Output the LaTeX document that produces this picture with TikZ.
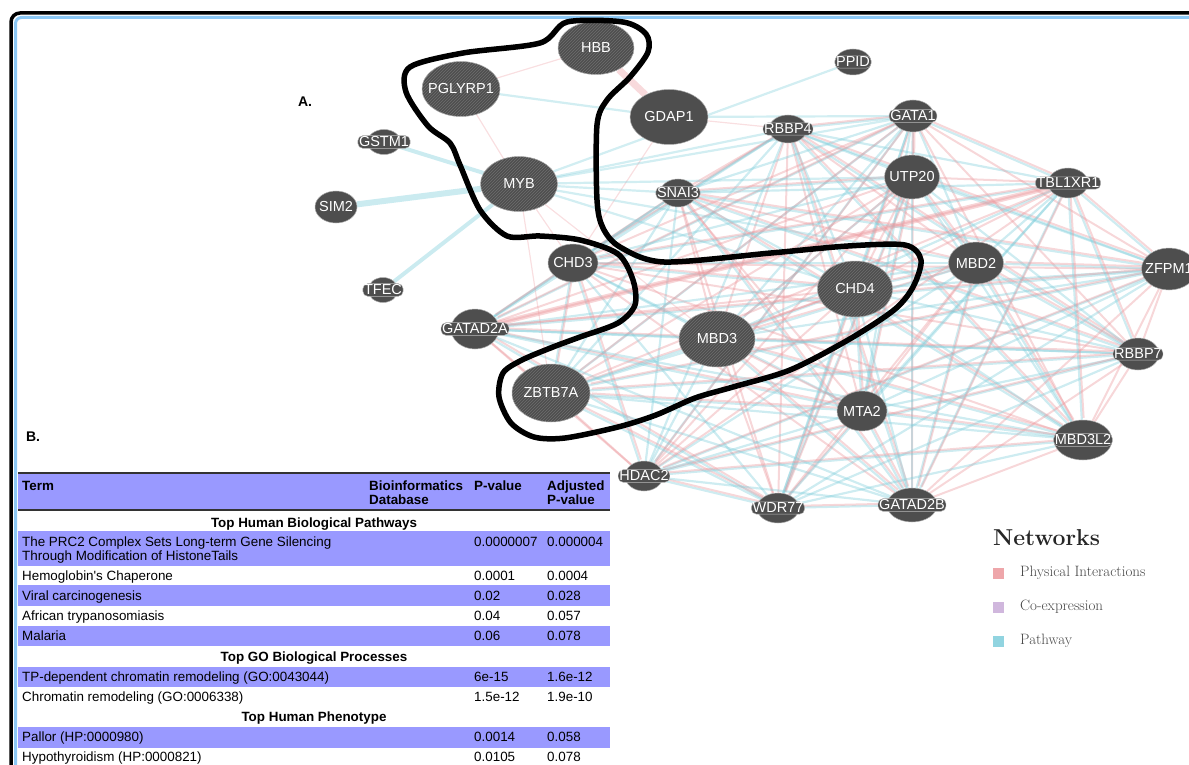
\documentclass[tikz,border=0pt]{standalone}
\usepackage{fontspec}
\newfontfamily\arialf{Liberation Sans}
\usetikzlibrary{shapes.geometric,patterns}
\definecolor{nodegray}{RGB}{78,78,78}
\definecolor{hatchgray}{RGB}{110,110,110}
\definecolor{physcol}{RGB}{235,150,155}
\definecolor{pwaycol}{RGB}{125,205,218}
\definecolor{coexcol}{RGB}{200,170,215}
\definecolor{rowblue}{RGB}{153,153,255}
\definecolor{frameblue}{RGB}{140,200,245}
\definecolor{legtext}{RGB}{70,70,70}
\pgfdeclarelayer{bg}
\pgfsetlayers{bg,main}
\newcommand{\tabf}{\arialf\fontsize{13.4}{15}\selectfont}
\tikzset{
  gnode/.style={ellipse, fill=nodegray, draw=gray!65, line width=0.5pt, inner sep=0pt},
  sz/.style 2 args={minimum width=#1, minimum height=#2},
  hatch/.style={preaction={fill=nodegray}, pattern=north east lines, pattern color=hatchgray},
  lbl/.style={text=white, inner sep=0pt, font=\arialf\fontsize{14.5}{16}\selectfont},
  pill/.style={lbl, fill=nodegray, draw=gray!55, line width=0.4pt, rounded corners=5pt, inner sep=1.2pt},
  plain/.style={label={[lbl]center:#1}},
  halo/.style={label={[pill]center:#1}},
  phys/.style={draw=physcol, draw opacity=0.38, line width=2pt},
  pway/.style={draw=pwaycol, draw opacity=0.38, line width=2.2pt},
  hull/.style={line width=5.5pt, line join=round},
  cell/.style={anchor=base west, inner sep=0pt, font=\tabf},
  head/.style={anchor=base, inner sep=0pt, font=\tabf\bfseries},
}
\begin{document}
\begin{tikzpicture}[x=1pt,y=1pt,yscale=-1]
\useasboundingbox (0,0) rectangle (1189,765);

%frame
\draw[line width=3.5pt, rounded corners=9pt] (11,800) -- (11,13) -- (1230,13);
\draw[frameblue, line width=3pt, rounded corners=6pt] (15.5,800) -- (15.5,17.5) -- (1230,17.5);

%Shape: Ellipse nodes
\node[gnode,sz={76}{53},hatch,plain=HBB] (hbb) at (596,48) {};
\node[gnode,sz={78}{55},hatch,plain=PGLYRP1] (pglyrp1) at (461,89) {};
\node[gnode,sz={78}{55},plain=GDAP1] (gdap1) at (669,117) {};
\node[gnode,sz={77}{55},hatch,plain=MYB] (myb) at (519,184) {};
\node[gnode,sz={75}{56},hatch,plain=CHD4] (chd4) at (855,289) {};
\node[gnode,sz={76}{56},hatch,plain=MBD3] (mbd3) at (717,339) {};
\node[gnode,sz={78}{58},hatch,plain=ZBTB7A] (zbtb7a) at (551,393) {};
\node[gnode,sz={36}{26},halo=PPID] (ppid) at (853,62) {};
\node[gnode,sz={38}{28},halo=RBBP4] (rbbp4) at (788,129) {};
\node[gnode,sz={42}{32},halo=GATA1] (gata1) at (913,116) {};
\node[gnode,sz={33}{25},halo=GSTM1] (gstm1) at (384,142) {};
\node[gnode,sz={36}{28},halo=SNAI3] (snai3) at (678,193) {};
\node[gnode,sz={55}{44},plain=UTP20] (utp20) at (912,177) {};
\node[gnode,sz={40}{30},halo=TBL1XR1] (tbl1xr1) at (1068,183) {};
\node[gnode,sz={42}{32},plain=SIM2] (sim2) at (336,207) {};
\node[gnode,sz={50}{38},plain=CHD3] (chd3) at (573,263) {};
\node[gnode,sz={55}{42},plain=MBD2] (mbd2) at (976,263) {};
\node[gnode,sz={55}{42},plain=ZFPM1] (zfpm1) at (1169,269) {};
\node[gnode,sz={30}{25},halo=TFEC] (tfec) at (383,290) {};
\node[gnode,sz={48}{40},halo=GATAD2A] (gatad2a) at (475,329) {};
\node[gnode,sz={42}{32},halo=RBBP7] (rbbp7) at (1138,354) {};
\node[gnode,sz={50}{40},plain=MTA2] (mta2) at (862,411) {};
\node[gnode,sz={58}{40},halo=MBD3L2] (mbd3l2) at (1083,440) {};
\node[gnode,sz={38}{30},halo=HDAC2] (hdac2) at (644,476) {};
\node[gnode,sz={42}{30},halo=WDR77] (wdr77) at (778,508) {};
\node[gnode,sz={50}{34},halo=GATAD2B] (gatad2b) at (912,505) {};

%Straight Lines
\begin{pgfonlayer}{bg}
\foreach \a [count=\i] in {rbbp4,gata1,utp20,snai3,chd3,chd4,mbd2,zfpm1,gatad2a,mbd3,rbbp7,zbtb7a,mta2,mbd3l2,hdac2,wdr77,gatad2b,tbl1xr1}{
  \foreach \b [count=\j] in {rbbp4,gata1,utp20,snai3,chd3,chd4,mbd2,zfpm1,gatad2a,mbd3,rbbp7,zbtb7a,mta2,mbd3l2,hdac2,wdr77,gatad2b,tbl1xr1}{
    \ifnum\j>\i
      \pgfmathtruncatemacro{\k}{mod(\i+2*\j,3)}
      \ifnum\k=0 \draw[phys] (\a) -- (\b); \fi
      \ifnum\k=1 \draw[pway] (\a) -- (\b); \fi
      \ifnum\k=2
        \draw[pway] (\a) -- (\b);
        \draw[phys, transform canvas={shift={(1.8pt,1.8pt)}}] (\a) -- (\b);
      \fi
    \fi
  }
}
\foreach \a/\b in {pglyrp1/myb,hbb/pglyrp1,myb/chd3,myb/mbd3,gdap1/chd3,myb/zbtb7a,gdap1/rbbp4}
  \draw[phys, draw opacity=0.3, line width=1.2pt] (\a) -- (\b);
\foreach \a/\b in {ppid/myb,myb/gata1,myb/rbbp4,myb/utp20,myb/chd4,myb/mbd2,pglyrp1/gdap1,gdap1/gata1,myb/snai3}
  \draw[pway, draw opacity=0.35] (\a) -- (\b);
\draw[phys, draw opacity=0.35, line width=7pt] (hbb) -- (gdap1);
\draw[phys, draw opacity=0.4, line width=5pt] (tbl1xr1) -- (gatad2a);
\draw[pway, draw opacity=0.4, line width=6pt] (sim2) -- (myb);
\draw[pway, draw opacity=0.4, line width=4pt] (gstm1) -- (myb);
\draw[pway, draw opacity=0.4, line width=4pt] (tfec) -- (myb);
\end{pgfonlayer}

%Curve Lines
\draw[hull] plot[smooth cycle, tension=0.5] coordinates {
  (410,67) (463,53) (540,43) (567,22) (623,22) (646,34) (648,52) (630,77) (607,100)
  (597,125) (597,200) (603,228) (620,247) (664,262) (771,253) (848,246) (905,245)
  (921,260) (913,287) (894,310) (848,340) (790,370) (733,387) (695,398) (656,415)
  (618,427) (565,438) (534,437) (511,423) (499,397) (503,373) (522,360) (553,347)
  (580,337) (618,323) (635,305) (633,280) (618,254) (580,240) (540,236) (507,236)
  (480,210) (460,165) (450,143) (428,126) (406,92)};

% Text Node
\node[font=\arialf\bfseries\fontsize{14}{16}\selectfont] (lblA) at (305,102) {A.};
\node[font=\arialf\bfseries\fontsize{14}{16}\selectfont] (lblB) at (33,437) {B.};

%table
\fill[rowblue] (18,473) rectangle (610,510);
\foreach \y/\h in {531/566,585/606,626/646,667/687,727/748}
  \fill[rowblue] (18,\y) rectangle (610,\h);
\draw[black!80, line width=2.5pt] (18,473) -- (610,473);
\draw[black!80, line width=2.5pt] (18,510) -- (610,510);
\node[cell,font=\tabf\bfseries] (hTerm) at (22,490) {Term};
\node[cell,font=\tabf\bfseries] (hDb1) at (369,490) {Bioinformatics};
\node[cell,font=\tabf\bfseries] (hDb2) at (369,504) {Database};
\node[cell,font=\tabf\bfseries] (hPv) at (474,490) {P-value};
\node[cell,font=\tabf\bfseries] (hAdj1) at (547,490) {Adjusted};
\node[cell,font=\tabf\bfseries] (hAdj2) at (547,504) {P-value};
\node[head] (sec1) at (314,527) {Top Human Biological Pathways};
\node[cell] (r1a) at (22,546) {The PRC2 Complex Sets Long-term Gene Silencing};
\node[cell] (r1b) at (22,560.5) {Through Modification of HistoneTails};
\node[cell] (r1p) at (474,546) {0.0000007};
\node[cell] (r1q) at (547,546) {0.000004};
\node[cell] (r2) at (22,580.5) {Hemoglobin's Chaperone};
\node[cell] (r2p) at (474,580.5) {0.0001};
\node[cell] (r2q) at (547,580.5) {0.0004};
\node[cell] (r3) at (22,600.5) {Viral carcinogenesis};
\node[cell] (r3p) at (474,600.5) {0.02};
\node[cell] (r3q) at (547,600.5) {0.028};
\node[cell] (r4) at (22,620.5) {African trypanosomiasis};
\node[cell] (r4p) at (474,620.5) {0.04};
\node[cell] (r4q) at (547,620.5) {0.057};
\node[cell] (r5) at (22,640.5) {Malaria};
\node[cell] (r5p) at (474,640.5) {0.06};
\node[cell] (r5q) at (547,640.5) {0.078};
\node[head] (sec2) at (314,661) {Top GO Biological Processes};
\node[cell] (r6) at (22,681.5) {TP-dependent chromatin remodeling (GO:0043044)};
\node[cell] (r6p) at (474,681.5) {6e-15};
\node[cell] (r6q) at (547,681.5) {1.6e-12};
\node[cell] (r7) at (22,701.5) {Chromatin remodeling (GO:0006338)};
\node[cell] (r7p) at (474,701.5) {1.5e-12};
\node[cell] (r7q) at (547,701.5) {1.9e-10};
\node[head] (sec3) at (314,721.5) {Top Human Phenotype};
\node[cell] (r8) at (22,741.5) {Pallor (HP:0000980)};
\node[cell] (r8p) at (474,741.5) {0.0014};
\node[cell] (r8q) at (547,741.5) {0.058};
\node[cell] (r9) at (22,761.5) {Hypothyroidism (HP:0000821)};
\node[cell] (r9p) at (474,761.5) {0.0105};
\node[cell] (r9q) at (547,761.5) {0.078};

%legend
\node[anchor=west, inner sep=0pt, font=\bfseries\fontsize{23}{26}\selectfont, text=black!85] (legT) at (993,538) {Networks};
\foreach \c/\t/\y [count=\n] in {physcol/Physical Interactions/573, coexcol/Co-expression/607, pwaycol/Pathway/641}{
  \fill[\c!85] (993,\y-5.5) rectangle (1004,\y+5.5);
  \node[anchor=west, inner sep=0pt, text=legtext, font=\fontsize{15}{17}\selectfont] (leg\n) at (1020,\y) {\t};
}
\end{tikzpicture}
\end{document}
